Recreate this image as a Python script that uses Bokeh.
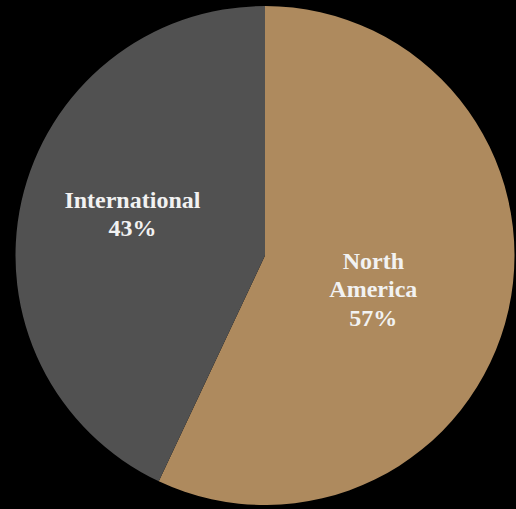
import math
from bokeh.plotting import figure
from bokeh.models import ColumnDataSource
from bokeh.core.properties import value
from bokeh.embed import file_html
from bokeh.resources import INLINE
from bokeh.core.templates import get_env

# data
regions = ["North America", "International"]
labels = ["North\nAmerica\n57%", "International\n43%"]
shares = [57, 43]
colors = ["#AE8A5E", "#515151"]

# label placement styling (fraction of radius, common angular nudge)
label_radius = [0.455, 0.557]
label_nudge = math.radians(-4.8)

W, H = 516, 509
R = 249.5
cx, cy = 264.5, 255.0  # pie centre in figure pixels (from top-left)

total = sum(shares)
starts, ends, lx, ly = [], [], [], []
cum = 0.0
for s, lr in zip(shares, label_radius):
    a0 = math.pi / 2 - 2 * math.pi * (cum + s) / total
    a1 = math.pi / 2 - 2 * math.pi * cum / total
    starts.append(a0)
    ends.append(a1)
    mid = (a0 + a1) / 2 + label_nudge
    lx.append(lr * R * math.cos(mid))
    ly.append(lr * R * math.sin(mid))
    cum += s

src = ColumnDataSource(dict(region=regions, label=labels, start=starts, end=ends,
                            color=colors, lx=lx, ly=ly))

p = figure(width=W, height=H, output_backend="svg", toolbar_location=None,
           x_range=(-cx, W - cx), y_range=(-(H - cy), cy),
           background_fill_color="black", border_fill_color="black",
           min_border=0, outline_line_color=None)
p.axis.visible = False
p.grid.visible = False

p.wedge(x=0, y=0, radius=R, start_angle="start", end_angle="end",
        fill_color="color", line_color=None, source=src)

p.text(x="lx", y="ly", text="label", source=src,
       text_font=value("Liberation Serif"), text_font_style="bold",
       text_font_size="24px", text_color="#F2F2F2",
       text_align="center", text_baseline="middle", text_line_height=1.1)

template = get_env().from_string(
    '{% extends "file.html" %}{% block preamble %}<style>html,body{background:#000;margin:0;padding:0;overflow:hidden;}</style>{% endblock %}'
)

open("out.html", "w").write(file_html(p, INLINE, template=template))
